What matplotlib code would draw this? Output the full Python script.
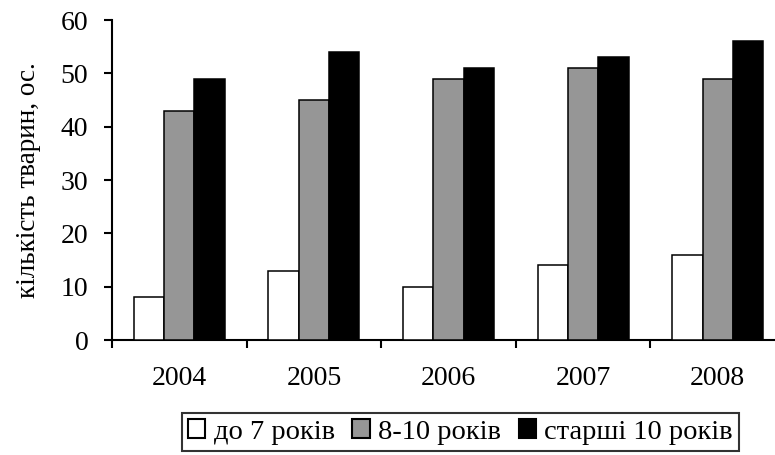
import matplotlib
matplotlib.use("Agg")
import matplotlib.pyplot as plt
import numpy as np
from matplotlib.patches import Patch

plt.rcParams['font.family'] = ['Liberation Serif', 'DejaVu Serif']

years = ['2004', '2005', '2006', '2007', '2008']
series_names = ['до 7 років', '8-10 років', 'старші 10 років']
under7 = [8, 13, 10, 14, 16]
from8to10 = [43, 45, 49, 51, 49]
over10 = [49, 54, 51, 53, 56]
colors = ['#ffffff', '#969696', '#000000']

fig = plt.figure(figsize=(7.75, 4.55), dpi=100)
ax = fig.add_axes([112/775, 115/455, 673/775, 320/455])

x = np.arange(len(years))
w = 0.225
for i, (vals, c) in enumerate(zip([under7, from8to10, over10], colors)):
    ax.bar(x + (i - 1) * w, vals, width=w, color=c, edgecolor='black', linewidth=1.1,
           label=series_names[i], zorder=3)

ax.set_xlim(-0.5, len(years) - 0.5)
ax.set_ylim(0, 60)
ax.set_yticks(range(0, 61, 10))
ax.set_xticks(np.arange(-0.5, len(years), 1.0))
ax.set_xticklabels([])
ax.set_xticks(x, minor=True)
ax.set_xticklabels(years, minor=True)
ax.tick_params(axis='x', which='minor', length=0, pad=19, labelsize=20)
ax.tick_params(axis='x', which='major', direction='out', length=6, width=1.5)
ax.tick_params(axis='y', direction='out', length=6, width=1.5, labelsize=20, pad=11)

for s in ['top', 'right']:
    ax.spines[s].set_visible(False)
for s in ['left', 'bottom']:
    ax.spines[s].set_linewidth(1.5)

ax.set_ylabel('кількість тварин, ос.', fontsize=19.5, labelpad=14)

handles = [Patch(facecolor=c, edgecolor='black', linewidth=1.5) for c in colors]
leg = fig.legend(handles, series_names, loc='center', bbox_to_anchor=(460.5/775, 23/455),
                 ncol=3, fontsize=20.5, frameon=True, fancybox=False,
                 handlelength=0.6, handleheight=0.6, handletextpad=0.3,
                 columnspacing=0.62, borderpad=0.22, borderaxespad=0)
leg.get_frame().set_edgecolor('black')
leg.get_frame().set_linewidth(1.5)

fig.savefig('out.png', dpi=100)
